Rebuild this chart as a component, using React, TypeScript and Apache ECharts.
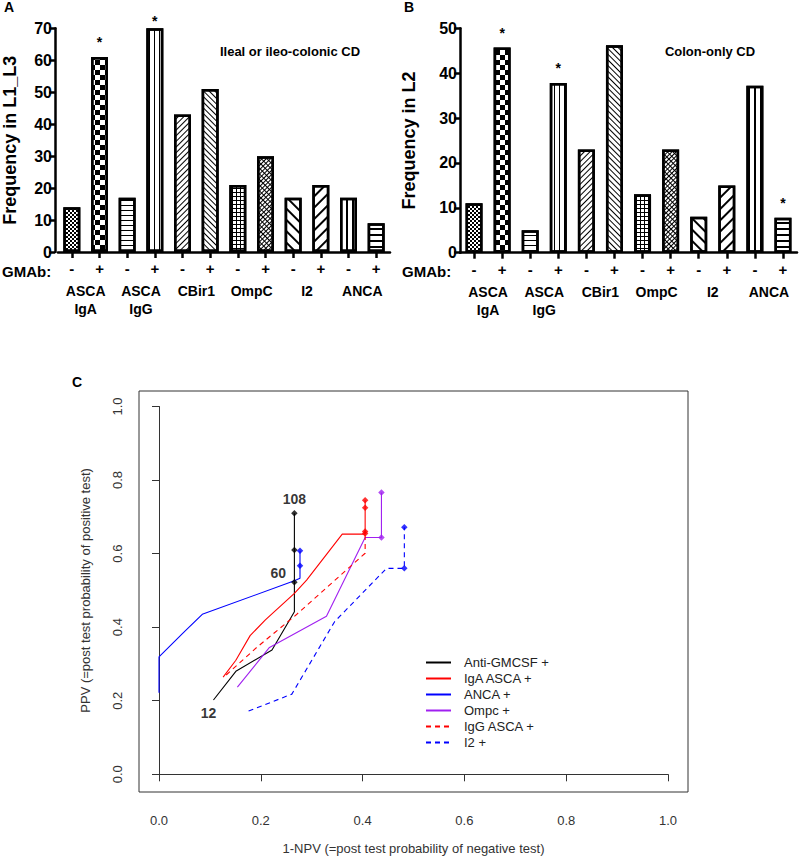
import React, { useEffect, useRef } from 'react';
import * as echarts from 'echarts';

// ---------- Panels A & B data ----------
const groups = ['ASCA\nIgA', 'ASCA\nIgG', 'CBir1', 'OmpC', 'I2', 'ANCA'];
const gmab = ['-', '+', '-', '+', '-', '+', '-', '+', '-', '+', '-', '+'];
const freqL1L3 = [14, 61, 17, 70, 43, 51, 21, 30, 17, 21, 17, 9];
const freqL2 = [11, 45.7, 5, 37.8, 23, 46.2, 13, 23, 8, 15, 37.2, 7.8];
const starL1L3 = [1, 3];
const starL2 = [1, 3, 11];

// ---------- Panel C data ----------
const antiGmcsf = [[0.107, 0.202], [0.151, 0.28], [0.222, 0.338], [0.266, 0.442], [0.266, 0.522], [0.266, 0.61], [0.266, 0.71]];
const igaAsca = [[0.126, 0.264], [0.151, 0.31], [0.179, 0.377], [0.209, 0.42], [0.266, 0.492], [0.29, 0.528], [0.36, 0.653], [0.405, 0.653], [0.405, 0.725], [0.405, 0.745]];
const anca = [[0, 0.222], [0, 0.319], [0.048, 0.385], [0.085, 0.435], [0.266, 0.526], [0.277, 0.533], [0.277, 0.567], [0.277, 0.608]];
const ompc = [[0.154, 0.237], [0.217, 0.345], [0.329, 0.43], [0.405, 0.644], [0.437, 0.644], [0.437, 0.766]];
const iggAsca = [[0.132, 0.27], [0.192, 0.345], [0.269, 0.433], [0.405, 0.601], [0.405, 0.66]];
const i2 = [[0.176, 0.172], [0.261, 0.218], [0.345, 0.415], [0.447, 0.56], [0.482, 0.56], [0.482, 0.672]];

const antiGmcsfDots = [[0.266, 0.522], [0.266, 0.61], [0.266, 0.71]];
const antiGmcsfDotLabels = ['60', '', '108'];
const antiGmcsfStart = [[0.107, 0.202]];
const antiGmcsfStartLabel = '12';
const igaDots = [[0.405, 0.655], [0.405, 0.725], [0.405, 0.745]];
const iggDots = [[0.405, 0.66]];
const ancaDots = [[0.277, 0.567], [0.277, 0.608]];
const ompcDots = [[0.437, 0.644], [0.437, 0.766]];
const i2Dots = [[0.482, 0.56], [0.482, 0.672]];

const FONT = '"Liberation Sans", Arial, sans-serif';

const base = { symbol: 'rect', symbolSize: 1, color: '#000', backgroundColor: '#fff', rotation: 0 };
const lines = (dy: number[], rotation: number) => ({ ...base, dashArrayX: [20, 0], dashArrayY: dy, rotation });
const grid = (cell: number, rotation: number) => ({ ...base, dashArrayX: [[20, 0], [1, cell]], dashArrayY: [1, 0, cell, 0], rotation });
const RISE = -Math.PI / 4; // "/"
const FALL = Math.PI / 4; // "\"
const patterns: any[] = [
  { ...base, dashArrayX: [[2, 2], [0, 2, 2, 0]], dashArrayY: [2, 0] },
  { ...base, dashArrayX: [[5, 5], [0, 5, 5, 0]], dashArrayY: [5, 0] },
  lines([1, 4], 0),
  lines([1, 4], Math.PI / 2),
  lines([1, 3], RISE),
  lines([1, 3], FALL),
  grid(3, 0),
  { ...base, dashArrayX: [[20, 0], [1, 3]], dashArrayY: [1, 0, 2, 0], rotation: RISE },
  lines([2, 6], FALL),
  lines([2, 6], RISE),
  lines([2, 4], Math.PI / 2),
  lines([2, 4], 0),
];

function barData(vals: number[], stars: number[], dist: number[]) {
  return vals.map((v, i) => ({
    value: v,
    itemStyle: { decal: patterns[i] },
    label: { show: stars.includes(i), formatter: '*', position: 'top', distance: dist[i] ?? 8, fontSize: 14, fontWeight: 'bold', color: '#000', fontFamily: FONT },
  }));
}

function catAxes(gridIndex: number) {
  return [
    {
      type: 'category', gridIndex, data: gmab,
      axisLine: { lineStyle: { color: '#000', width: 2.5 } },
      axisTick: { show: true, alignWithLabel: true, length: 6, lineStyle: { color: '#000', width: 2.5 } },
      axisLabel: { fontSize: 15, fontWeight: 'bold', color: '#000', margin: 9, fontFamily: FONT },
    },
    {
      type: 'category', gridIndex, data: groups, position: 'bottom', offset: 30,
      axisLine: { show: false }, axisTick: { show: false },
      axisLabel: { fontSize: 14, fontWeight: 'bold', color: '#000', margin: 0, lineHeight: 18, fontFamily: FONT },
    },
  ];
}

function barYAxis(gridIndex: number, max: number, name: string, nameGap: number, offset: number) {
  return {
    type: 'value', gridIndex, min: 0, max, interval: 10, offset, name, nameLocation: 'middle', nameGap,
    nameTextStyle: { fontSize: 18, fontWeight: 'bold', color: '#000', fontFamily: FONT },
    axisLine: { show: true, lineStyle: { color: '#000', width: 2.5 } },
    axisTick: { show: true, length: 6, lineStyle: { color: '#000', width: 2.5 } },
    axisLabel: { fontSize: 16, fontWeight: 'bold', color: '#000', margin: 3, fontFamily: FONT },
    splitLine: { show: false },
  };
}

const lineNames = ['Anti-GMCSF +', 'IgA ASCA +', 'ANCA +', 'Ompc +', 'IgG ASCA +', 'I2 +'];
const lineData = [antiGmcsf, igaAsca, anca, ompc, iggAsca, i2];
const lineColors = ['#000000', '#ff0000', '#0000ff', '#a020f0', '#ff0000', '#0000ff'];
const lineTypes: any[] = ['solid', 'solid', 'solid', 'solid', [5, 4], [5, 4]];

export default function App() {
  const ref = useRef<HTMLDivElement>(null);
  useEffect(() => {
    if (!ref.current) return;
    const chart = echarts.init(ref.current, null, { renderer: 'svg' });
    const txt = (x: number, y: number, text: string, size: number, extra: any = {}) => ({
      type: 'text', x, y, style: { text, fontSize: size, fontWeight: 'bold', fill: '#000', fontFamily: FONT, ...extra },
    });
    const dotSeries = (data: any[], color: string) => ({
      type: 'scatter', xAxisIndex: 4, yAxisIndex: 2, data, symbol: 'diamond', symbolSize: 6.5,
      itemStyle: { color }, z: 5,
    });
    const lbl = { fontSize: 14, fontWeight: 'bold', color: '#000', fontFamily: FONT };
    chart.setOption({
      animation: false,
      backgroundColor: '#fff',
      textStyle: { fontFamily: FONT },
      grid: [
        { left: 53.5, top: 28.3, width: 336.5, height: 223.7 },
        { left: 460, top: 28.3, width: 337, height: 224.4 },
        { left: 159, top: 406.5, width: 509, height: 367.8 },
      ],
      xAxis: [
        ...catAxes(0),
        ...catAxes(1),
        {
          type: 'value', gridIndex: 2, min: 0, max: 1, interval: 0.2, offset: 18,
          name: '1-NPV (=post test probability of negative test)', nameLocation: 'middle', nameGap: 50,
          nameTextStyle: { fontSize: 13, color: '#333', fontFamily: FONT },
          axisLine: { show: true, lineStyle: { color: '#333', width: 1 } },
          axisTick: { show: true, length: 7, lineStyle: { color: '#333', width: 1 } },
          axisLabel: { fontSize: 13, color: '#333', margin: 22, formatter: (v: number) => v.toFixed(1), fontFamily: FONT },
          splitLine: { show: false },
        },
      ],
      yAxis: [
        barYAxis(0, 70, 'Frequency in L1_L3', 36, 3),
        barYAxis(1, 50, 'Frequency in L2', 42, 0),
        {
          type: 'value', gridIndex: 2, min: 0, max: 1, interval: 0.2, offset: 20,
          name: 'PPV (=post test probability of positive test)', nameLocation: 'middle', nameGap: 47,
          nameTextStyle: { fontSize: 13, color: '#333', fontFamily: FONT },
          axisLine: { show: true, lineStyle: { color: '#333', width: 1 } },
          axisTick: { show: true, length: 7, lineStyle: { color: '#333', width: 1 } },
          axisLabel: { fontSize: 13, color: '#333', margin: 15, rotate: 90, formatter: (v: number) => v.toFixed(1), fontFamily: FONT },
          splitLine: { show: false },
        },
      ],
      legend: {
        data: lineNames, orient: 'vertical', left: 425, top: 656, padding: 0, itemWidth: 25, itemHeight: 14, itemGap: 3,
        itemStyle: { opacity: 0 },
        textStyle: { fontSize: 13, color: '#222', fontFamily: FONT, padding: [0, 0, 0, 8] },
      },
      graphic: [
        txt(4, 0, 'A', 14),
        txt(404, 0, 'B', 14),
        txt(72, 375, 'C', 14),
        txt(290, 51, 'Ileal or ileo-colonic CD', 13, { align: 'center', verticalAlign: 'middle' }),
        txt(710, 51, 'Colon-only CD', 13, { align: 'center', verticalAlign: 'middle' }),
        txt(2, 271, 'GMAb:', 15, { verticalAlign: 'middle' }),
        txt(402, 271, 'GMAb:', 15, { verticalAlign: 'middle' }),
        { type: 'rect', shape: { x: 139, y: 391, width: 549, height: 401 }, style: { fill: 'none', stroke: '#333', lineWidth: 1 }, silent: true },
      ],
      series: [
        {
          type: 'bar', xAxisIndex: 0, yAxisIndex: 0, barWidth: 17,
          itemStyle: { color: '#fff', borderColor: '#000', borderWidth: 2.5 },
          data: barData(freqL1L3, starL1L3, [8, 8, 8, 0]),
        },
        {
          type: 'bar', xAxisIndex: 2, yAxisIndex: 1, barWidth: 17,
          itemStyle: { color: '#fff', borderColor: '#000', borderWidth: 2.5 },
          data: barData(freqL2, starL2, []),
        },
        ...lineNames.map((n, i) => ({
          type: 'line', name: n, xAxisIndex: 4, yAxisIndex: 2, data: lineData[i], symbol: 'none',
          lineStyle: { color: lineColors[i], width: 1.1, type: lineTypes[i] }, itemStyle: { color: lineColors[i] },
        })),
        {
          ...dotSeries(antiGmcsfDots.map((d, i) => ({
            value: d,
            label: {
              show: antiGmcsfDotLabels[i] !== '', formatter: antiGmcsfDotLabels[i] || ' ', ...lbl,
              position: i === 0 ? 'left' : 'top', distance: i === 0 ? 5 : 4, offset: i === 0 ? [0, -9] : [0, 0],
            },
          })), '#000'),
        },
        { ...dotSeries(igaDots, '#ff0000') },
        { ...dotSeries(iggDots, '#ff0000') },
        { ...dotSeries(ancaDots, '#0000ff') },
        { ...dotSeries(ompcDots, '#a020f0') },
        { ...dotSeries(i2Dots, '#0000ff') },
        {
          type: 'scatter', xAxisIndex: 4, yAxisIndex: 2, data: antiGmcsfStart, symbolSize: 0,
          label: { show: true, position: 'bottom', distance: 6, offset: [-5, 0], formatter: antiGmcsfStartLabel, ...lbl },
        },
      ],
    });
    return () => chart.dispose();
  }, []);
  return <div ref={ref} style={{ position: 'absolute', left: 0, top: 0, width: 800, height: 860, background: '#fff' }} />;
}
